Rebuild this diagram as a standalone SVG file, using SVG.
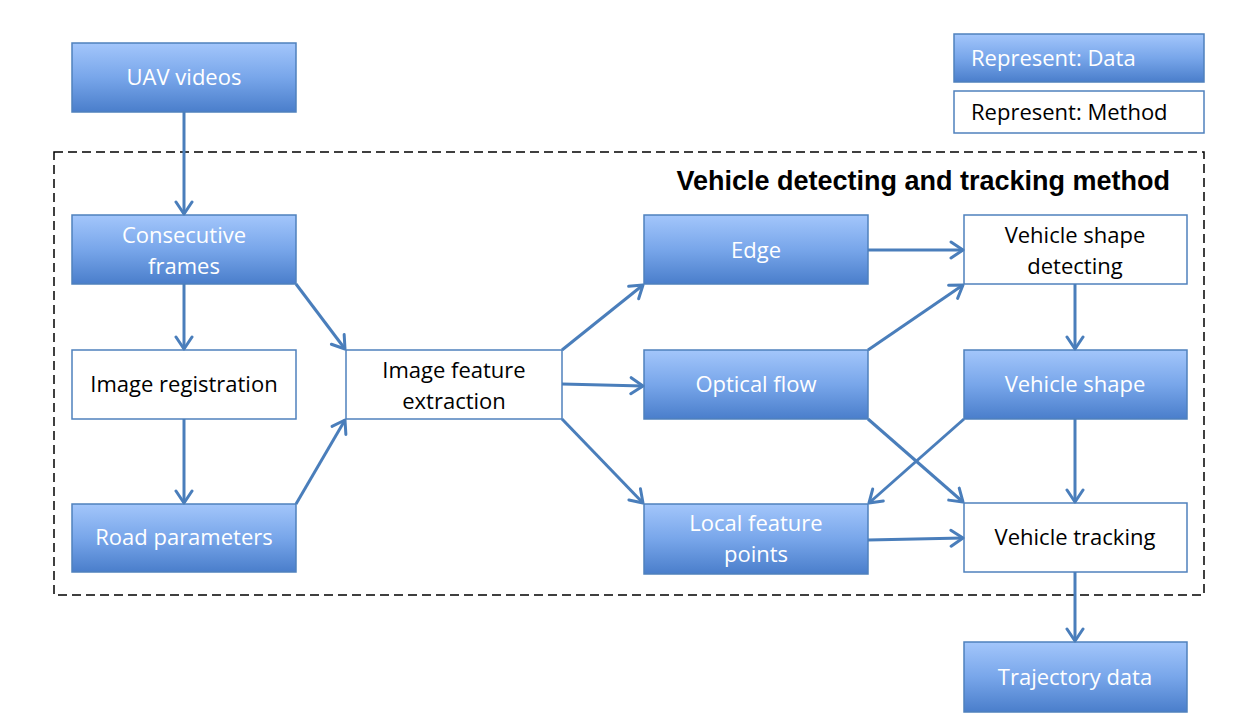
<svg xmlns="http://www.w3.org/2000/svg" width="1250" height="727" viewBox="0 0 1250 727">
<defs>
<linearGradient id="g" x1="0" y1="0" x2="0" y2="1">
<stop offset="0" stop-color="#a3c6fb"/>
<stop offset="0.5" stop-color="#78a6ea"/>
<stop offset="1" stop-color="#4a7ecb"/>
</linearGradient>
<marker id="ah" markerUnits="userSpaceOnUse" markerWidth="20" markerHeight="20" refX="14" refY="10" orient="auto">
<path d="M2,2 L14,10 L2,18" fill="none" stroke="#4a7ebb" stroke-width="3" stroke-linecap="round" stroke-linejoin="round"/>
</marker>
<style>
.d{fill:url(#g);stroke:#4f81bd;stroke-width:1.5}
.m{fill:#fff;stroke:#4f81bd;stroke-width:1.5}
.tw{fill:#fff;font-family:"Open Sans","Liberation Sans",sans-serif;font-size:22px;text-anchor:middle}
.tb{fill:#000;font-family:"Open Sans","Liberation Sans",sans-serif;font-size:22px;text-anchor:middle}
.c{fill:none;stroke:#4a7ebb;stroke-width:3;marker-end:url(#ah)}
</style>
</defs>
<rect x="0" y="0" width="1250" height="727" fill="#fff"/>
<rect x="54" y="152" width="1150" height="443" fill="none" stroke="#000" stroke-width="1.5" stroke-dasharray="9,5"/>
<text x="1170" y="190" font-family="Liberation Sans,Arial,sans-serif" font-size="27" font-weight="bold" text-anchor="end">Vehicle detecting and tracking method</text>

<g id="legend-data"><rect class="d" x="954" y="34" width="250" height="48"/><text class="tw" x="971" y="66" style="text-anchor:start">Represent: Data</text></g>
<g id="legend-method"><rect class="m" x="954" y="91" width="250" height="42"/><text class="tb" x="971" y="120" style="text-anchor:start">Represent: Method</text></g>

<g id="uav"><rect class="d" x="72" y="43" width="224" height="69"/><text class="tw" x="184" y="85">UAV videos</text></g>
<g id="consecutive"><rect class="d" x="72" y="215" width="224" height="69"/><text class="tw" x="184" y="243">Consecutive</text><text class="tw" x="184" y="274">frames</text></g>
<g id="registration"><rect class="m" x="72" y="350" width="224" height="69"/><text class="tb" x="184" y="392">Image registration</text></g>
<g id="road"><rect class="d" x="72" y="504" width="224" height="68"/><text class="tw" x="184" y="545">Road parameters</text></g>
<g id="ife"><rect class="m" x="346" y="350" width="216" height="69"/><text class="tb" x="454" y="378">Image feature</text><text class="tb" x="454" y="409">extraction</text></g>
<g id="edge"><rect class="d" x="644" y="215" width="224" height="69"/><text class="tw" x="756" y="258">Edge</text></g>
<g id="optical"><rect class="d" x="644" y="350" width="224" height="69"/><text class="tw" x="756" y="392">Optical flow</text></g>
<g id="lfp"><rect class="d" x="644" y="504" width="224" height="70"/><text class="tw" x="756" y="531">Local feature</text><text class="tw" x="756" y="562">points</text></g>
<g id="vsd"><rect class="m" x="964" y="215" width="223" height="69"/><text class="tb" x="1075" y="243">Vehicle shape</text><text class="tb" x="1075" y="274">detecting</text></g>
<g id="vshape"><rect class="d" x="964" y="350" width="223" height="69"/><text class="tw" x="1075" y="392">Vehicle shape</text></g>
<g id="vtrack"><rect class="m" x="964" y="503" width="223" height="69"/><text class="tb" x="1075" y="545">Vehicle tracking</text></g>
<g id="traj"><rect class="d" x="964" y="642" width="223" height="70"/><text class="tw" x="1075" y="685">Trajectory data</text></g>

<g id="connectors">
<line class="c" x1="184" y1="112" x2="184" y2="214"/>
<line class="c" x1="184" y1="284" x2="184" y2="349"/>
<line class="c" x1="184" y1="419" x2="184" y2="503"/>
<line class="c" x1="296" y1="284" x2="345" y2="349"/>
<line class="c" x1="296" y1="504" x2="345" y2="420"/>
<line class="c" x1="562" y1="350" x2="643" y2="285"/>
<line class="c" x1="562" y1="384" x2="643" y2="386"/>
<line class="c" x1="562" y1="419" x2="643" y2="503"/>
<line class="c" x1="868" y1="250" x2="963" y2="250"/>
<line class="c" x1="868" y1="350" x2="963" y2="285"/>
<line class="c" x1="1075" y1="284" x2="1075" y2="349"/>
<line class="c" x1="868" y1="419" x2="963" y2="502"/>
<line class="c" x1="964" y1="419" x2="869" y2="503"/>
<line class="c" x1="1075" y1="419" x2="1075" y2="502"/>
<line class="c" x1="868" y1="540" x2="963" y2="538"/>
<line class="c" x1="1075" y1="572" x2="1075" y2="641"/>
</g>
</svg>
